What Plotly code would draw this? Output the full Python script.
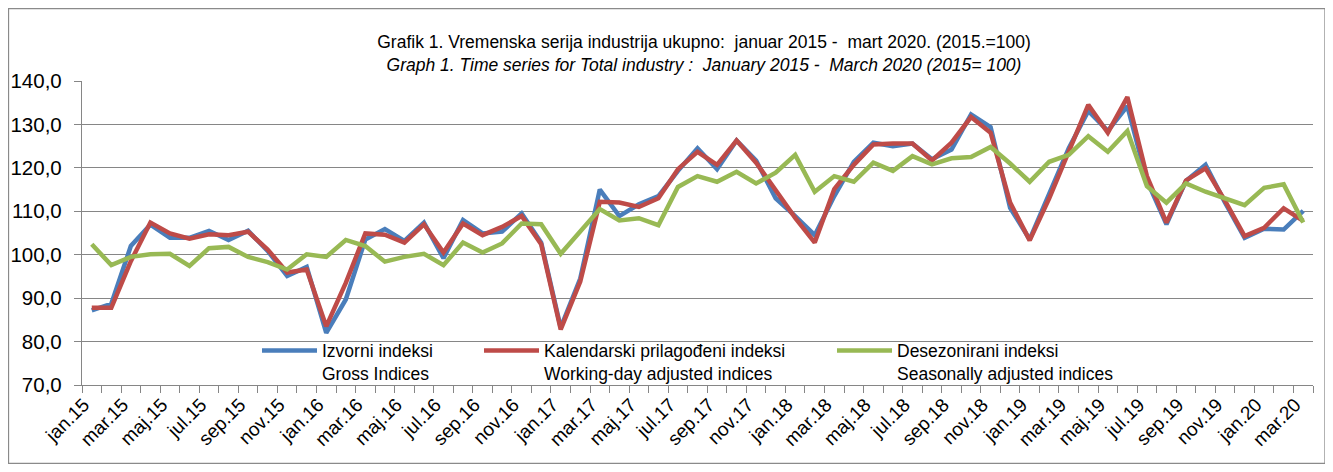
import plotly.graph_objects as go

months = ["jan", "feb", "mar", "apr", "maj", "jun", "jul", "avg", "sep", "okt", "nov", "dec"]
years = ["15", "16", "17", "18", "19", "20"]
categories = [f"{m}.{y}" for y in years for m in months][:63]

gross = [87.2, 88.7, 102.0, 106.9, 103.9, 103.9, 105.5, 103.4, 105.5, 100.9, 95.1, 97.2,
         82.0, 89.7, 103.5, 105.9, 103.2, 107.4, 99.2, 108.0, 104.9, 105.3, 109.5, 102.8,
         83.2, 94.5, 115.0, 108.9, 111.6, 113.5, 119.3, 124.5, 119.7, 126.3, 121.7, 113.0,
         108.9, 104.5, 113.5, 121.4, 125.8, 125.0, 125.6, 122.0, 124.2, 132.3, 129.4, 110.8,
         103.5, 114.0, 124.5, 133.1, 128.5, 134.2, 117.1, 107.0, 117.0, 120.7, 112.0, 103.9,
         106.0, 105.8, 110.1]

working_day = [87.8, 87.8, 98.5, 107.4, 104.9, 103.7, 104.7, 104.5, 105.3, 101.2, 95.9, 96.6,
               83.5, 93.5, 104.9, 104.6, 102.8, 107.0, 100.5, 107.2, 104.5, 106.4, 108.9, 102.4,
               82.8, 93.8, 112.2, 112.0, 111.0, 113.0, 119.7, 123.7, 120.7, 126.3, 121.2, 114.7,
               108.5, 102.8, 115.1, 120.7, 125.4, 125.6, 125.6, 121.7, 125.8, 131.7, 128.1, 112.0,
               103.3, 113.0, 123.5, 134.5, 128.1, 136.3, 118.1, 107.4, 117.1, 119.9, 112.4, 104.3,
               106.2, 110.7, 107.8]

seasonal = [102.4, 97.6, 99.5, 100.1, 100.2, 97.4, 101.5, 101.8, 99.5, 98.3, 96.6, 100.1,
            99.5, 103.4, 102.0, 98.4, 99.5, 100.2, 97.6, 102.8, 100.5, 102.6, 107.2, 107.0,
            100.2, 105.5, 110.5, 107.9, 108.4, 106.8, 115.6, 118.1, 116.8, 119.1, 116.4, 118.9,
            123.0, 114.5, 118.1, 116.8, 121.2, 119.3, 122.7, 120.8, 122.2, 122.5, 124.8, 121.0,
            116.8, 121.4, 123.0, 127.3, 123.7, 128.5, 115.8, 112.0, 116.4, 114.5, 113.0, 111.4,
            115.4, 116.2, 107.4]

series_names = ["Izvorni indeksi<br>Gross Indices",
                "Kalendarski prilagođeni indeksi<br>Working-day adjusted indices",
                "Desezonirani indeksi<br>Seasonally adjusted indices"]
colors = ["#4A7EBB", "#BE4B48", "#98B954"]

title_line1 = "Grafik 1. Vremenska serija industrija ukupno:  januar 2015 -  mart 2020. (2015.=100)"
title_line2 = "Graph 1. Time series for Total industry :  January 2015 -  March 2020 (2015= 100)"

FONT = "Liberation Sans, Arial, sans-serif"

x = list(range(len(categories)))
# figure sits at an 8px page offset (default body margin)
W, H = 1325, 464
L, R, T, B = 74, 20, 73, 86.5
pw, ph = W - L - R, H - T - B

def px2x(px):
    return (px - L) / pw

def py2y(py):
    return (H - B - py) / ph

fig = go.Figure()
for i, (vals, name, col) in enumerate(zip([gross, working_day, seasonal], series_names, colors)):
    fig.add_trace(go.Scatter(x=x, y=vals, mode="lines", name=name, showlegend=True,
                             line=dict(color=col, width=4.5),
                             legend="legend" if i == 0 else f"legend{i+1}"))

leg_common = dict(orientation="v", bgcolor="rgba(0,0,0,0)", itemwidth=55, valign="top",
                  font=dict(family=FONT, size=17.5, color="#000"), yanchor="top",
                  xanchor="left", y=py2y(325), itemclick=False)
fig.update_layout(
    showlegend=True,
    legend=dict(x=px2x(249), **leg_common),
    legend2=dict(x=px2x(471), **leg_common),
    legend3=dict(x=px2x(824), **leg_common),
)

fig.update_layout(
    width=W, height=H,
    margin=dict(l=L, r=R, t=T, b=B),
    paper_bgcolor="white", plot_bgcolor="white",
    separators=",.",
    font=dict(family=FONT, color="#000"),
    title=dict(text=title_line1 + "<br><i>" + title_line2 + "</i>",
               x=696 / W, xanchor="center", xref="container",
               y=1 - 40 / H, yanchor="top", yref="container",
               font=dict(family=FONT, size=17.5, color="#000")),
    xaxis=dict(range=[-0.5, len(categories) - 0.5], automargin=False,
               tickvals=x[::2], ticktext=categories[::2], ticks="",
               tickangle=-45, tickfont=dict(family=FONT, size=19, color="#000"),
               ticklabelshift=-8,
               showgrid=False, zeroline=False,
               showline=True, linecolor="#868686", linewidth=1.3,
               minor=dict(tick0=-0.5, dtick=1, ticks="outside", ticklen=7,
                          tickcolor="#868686", tickwidth=1.3, showgrid=False)),
    yaxis=dict(range=[70, 140], tickvals=list(range(70, 141, 10)), tickformat=".1f",
               automargin=False, ticklabelstandoff=8,
               ticks="outside", ticklen=7, tickcolor="#868686", tickwidth=1.3,
               tickfont=dict(family=FONT, size=20.5, color="#000"),
               showgrid=True, gridcolor="#868686", gridwidth=1.3,
               showline=True, linecolor="#868686", linewidth=1.3, zeroline=False),
)

fig.add_shape(type="rect", xref="paper", yref="paper",
              x0=px2x(0.5), x1=px2x(1317), y0=py2y(456), y1=py2y(0.5),
              line=dict(color="#8a8a8a", width=1.3), layer="below")

fig.write_html("out.html")
